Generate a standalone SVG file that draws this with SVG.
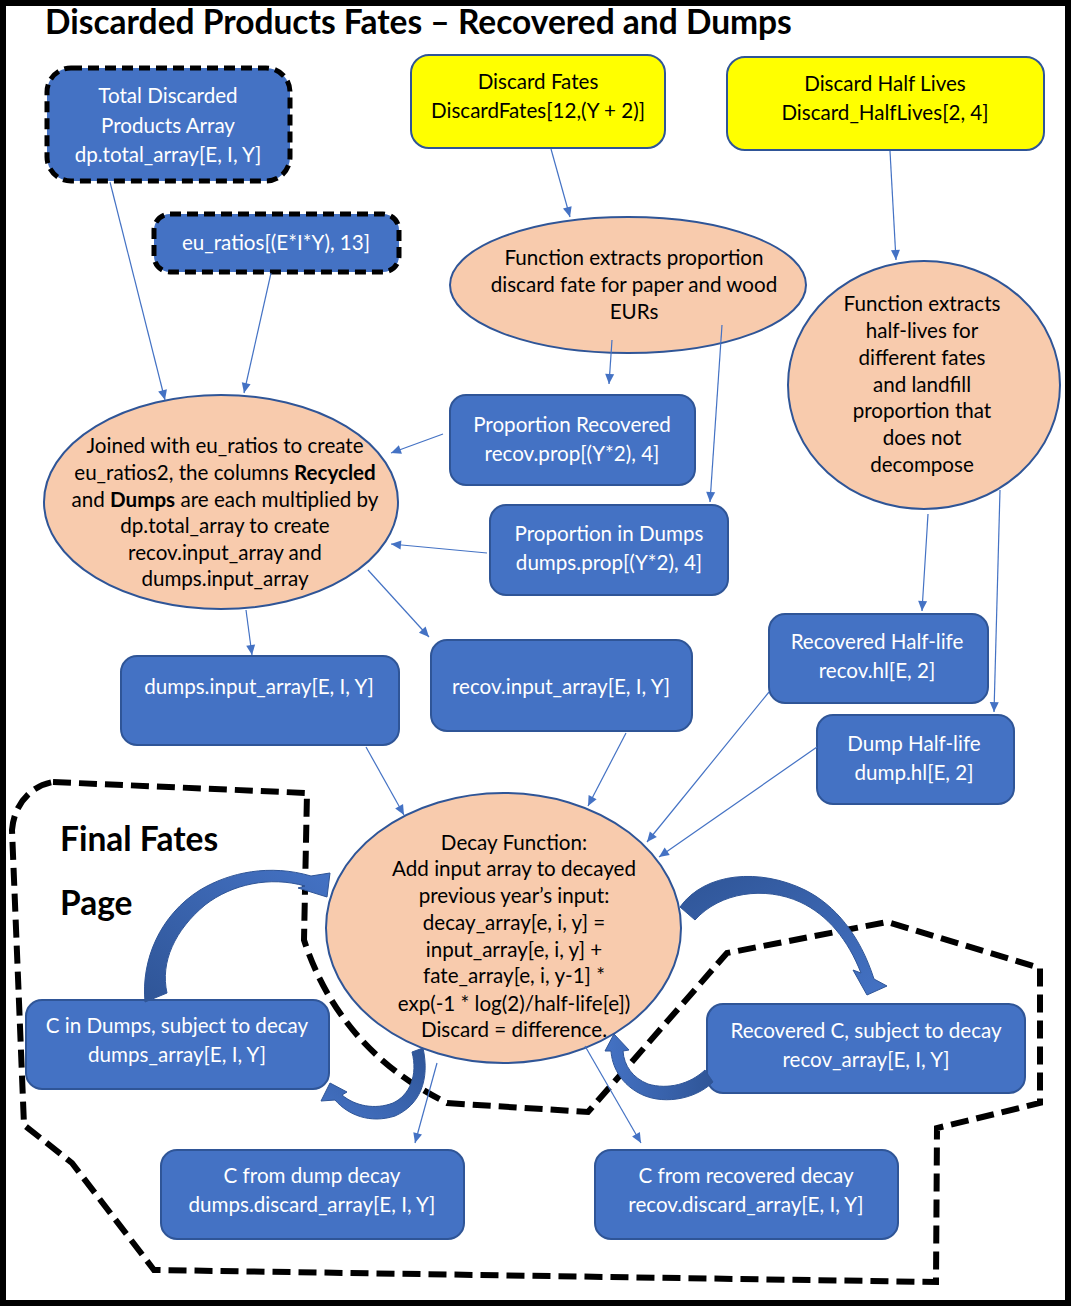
<svg xmlns="http://www.w3.org/2000/svg" width="1071" height="1306" viewBox="0 0 1071 1306">
<defs>
<style>
.t{font-family:Lato,"Liberation Sans",sans-serif;font-size:20.6px;text-anchor:middle}
.w{fill:#ffffff}
.k{fill:#000000}
.box{fill:#4472C4;stroke:#2F5597;stroke-width:2}
.dbox{fill:#4472C4;stroke:#000000;stroke-width:5;stroke-dasharray:11 6}
.ybox{fill:#FFFF00;stroke:#2F5597;stroke-width:2}
.ell{fill:#F8CBAD;stroke:#2F5597;stroke-width:2}
.con line{stroke:#4472C4;stroke-width:1.2;fill:none;marker-end:url(#ah)}
.big{font-family:Lato,"Liberation Sans",sans-serif;font-weight:bold;fill:#000}
</style>
<marker id="ah" viewBox="0 0 10 10" refX="10" refY="5" markerWidth="11" markerHeight="10" markerUnits="userSpaceOnUse" orient="auto">
<path d="M0,0.5 L10,5 L0,9.5 Z" fill="#4472C4"/>
</marker>
<linearGradient id="gA" x1="0" y1="1" x2="1" y2="0"><stop offset="0" stop-color="#2F5597"/><stop offset="1" stop-color="#4472C4"/></linearGradient>
<linearGradient id="gB" x1="1" y1="0" x2="0" y2="1"><stop offset="0" stop-color="#2F5597"/><stop offset="1" stop-color="#4472C4"/></linearGradient>
<linearGradient id="gC" x1="1" y1="0.5" x2="0" y2="0.5"><stop offset="0" stop-color="#2F5597"/><stop offset="1" stop-color="#4472C4"/></linearGradient>
<linearGradient id="gD" x1="0" y1="0" x2="1" y2="1"><stop offset="0" stop-color="#2F5597"/><stop offset="1" stop-color="#4472C4"/></linearGradient>
</defs>
<rect x="0" y="0" width="1071" height="1306" fill="#ffffff"/>
<rect x="3" y="3" width="1065" height="1300" fill="none" stroke="#000" stroke-width="6"/>

<text class="big" x="45" y="34" font-size="33.5">Discarded Products Fates – Recovered and Dumps</text>

<path id="final-fates-boundary" d="M53,782 L307,793 L304,940 Q340,1050 447,1103 L588,1112 L727,953 L887,922 L1040,968 L1040,1103 L937,1128 L936,1282 L154,1270 L72,1163 L24,1125 L12,830 C14,805 30,786 53,782 Z" fill="none" stroke="#000" stroke-width="6" stroke-dasharray="18 8"/>
<text class="big" x="60" y="851" font-size="33.5">Final Fates</text>
<text class="big" x="60" y="915" font-size="33.5">Page</text>

<g id="n-total">
<rect class="dbox" x="47" y="68" width="243" height="113" rx="24"/>
<text class="t w" x="168" y="103">Total Discarded</text>
<text class="t w" x="168" y="133">Products Array</text>
<text class="t w" x="168" y="162">dp.total_array[E, I, Y]</text>
</g>
<g id="n-euratios">
<rect class="dbox" x="154" y="214" width="245" height="58" rx="16"/>
<text class="t w" x="276" y="250">eu_ratios[(E*I*Y), 13]</text>
</g>
<g id="n-discardfates">
<rect class="ybox" x="411" y="55" width="254" height="93" rx="18"/>
<text class="t k" x="538" y="89">Discard Fates</text>
<text class="t k" x="538" y="118">DiscardFates[12,(Y + 2)]</text>
</g>
<g id="n-halflives">
<rect class="ybox" x="727" y="57" width="317" height="93" rx="18"/>
<text class="t k" x="885" y="91">Discard Half Lives</text>
<text class="t k" x="885" y="120">Discard_HalfLives[2, 4]</text>
</g>
<g id="n-extract-prop">
<ellipse class="ell" cx="628" cy="285" rx="178" ry="68"/>
<text class="t k" x="634" y="265">Function extracts proportion</text>
<text class="t k" x="634" y="292">discard fate for paper and wood</text>
<text class="t k" x="634" y="319">EURs</text>
</g>
<g id="n-extract-hl">
<ellipse class="ell" cx="924" cy="385" rx="136" ry="124"/>
<text class="t k" x="922" y="311">Function extracts</text>
<text class="t k" x="922" y="338">half-lives for</text>
<text class="t k" x="922" y="365">different fates</text>
<text class="t k" x="922" y="392">and landfill</text>
<text class="t k" x="922" y="418">proportion that</text>
<text class="t k" x="922" y="445">does not</text>
<text class="t k" x="922" y="472">decompose</text>
</g>
<g id="n-joined">
<ellipse class="ell" cx="221" cy="502" rx="177" ry="107"/>
<text class="t k" x="225" y="453">Joined with eu_ratios to create</text>
<text class="t k" x="225" y="480">eu_ratios2, the columns <tspan font-weight="bold">Recycled</tspan></text>
<text class="t k" x="225" y="507">and <tspan font-weight="bold">Dumps</tspan> are each multiplied by</text>
<text class="t k" x="225" y="533">dp.total_array to create</text>
<text class="t k" x="225" y="560">recov.input_array and</text>
<text class="t k" x="225" y="586">dumps.input_array</text>
</g>
<g id="n-proprecov">
<rect class="box" x="450" y="395" width="245" height="90" rx="16"/>
<text class="t w" x="572" y="432">Proportion Recovered</text>
<text class="t w" x="572" y="461">recov.prop[(Y*2), 4]</text>
</g>
<g id="n-propdumps">
<rect class="box" x="490" y="505" width="238" height="90" rx="16"/>
<text class="t w" x="609" y="541">Proportion in Dumps</text>
<text class="t w" x="609" y="570">dumps.prop[(Y*2), 4]</text>
</g>
<g id="n-dumpsinput">
<rect class="box" x="121" y="656" width="278" height="89" rx="16"/>
<text class="t w" x="259" y="694">dumps.input_array[E, I, Y]</text>
</g>
<g id="n-recovinput">
<rect class="box" x="431" y="640" width="261" height="91" rx="16"/>
<text class="t w" x="561" y="694">recov.input_array[E, I, Y]</text>
</g>
<g id="n-recovhl">
<rect class="box" x="769" y="614" width="219" height="89" rx="16"/>
<text class="t w" x="877" y="649">Recovered Half-life</text>
<text class="t w" x="877" y="678">recov.hl[E, 2]</text>
</g>
<g id="n-dumphl">
<rect class="box" x="817" y="715" width="197" height="89" rx="16"/>
<text class="t w" x="914" y="751">Dump Half-life</text>
<text class="t w" x="914" y="780">dump.hl[E, 2]</text>
</g>
<g id="n-decay">
<ellipse class="ell" cx="503.5" cy="928" rx="177.5" ry="135"/>
<text class="t k" x="514" y="850">Decay Function:</text>
<text class="t k" x="514" y="876">Add input array to decayed</text>
<text class="t k" x="514" y="903">previous year’s input:</text>
<text class="t k" x="514" y="930">decay_array[e, i, y] =</text>
<text class="t k" x="514" y="957">input_array[e, i, y] +</text>
<text class="t k" x="514" y="983">fate_array[e, i, y-1] *</text>
<text class="t k" x="514" y="1011">exp(-1 * log(2)/half-life[e])</text>
<text class="t k" x="514" y="1037">Discard = difference.</text>
</g>
<g id="n-cdumps">
<rect class="box" x="26" y="1000" width="303" height="89" rx="16"/>
<text class="t w" x="177" y="1033">C in Dumps, subject to decay</text>
<text class="t w" x="177" y="1062">dumps_array[E, I, Y]</text>
</g>
<g id="n-crecov">
<rect class="box" x="707" y="1004" width="318" height="89" rx="16"/>
<text class="t w" x="866" y="1038">Recovered C, subject to decay</text>
<text class="t w" x="866" y="1067">recov_array[E, I, Y]</text>
</g>
<g id="n-cdumpdecay">
<rect class="box" x="161" y="1150" width="303" height="89" rx="16"/>
<text class="t w" x="312" y="1183">C from dump decay</text>
<text class="t w" x="312" y="1212">dumps.discard_array[E, I, Y]</text>
</g>
<g id="n-crecovdecay">
<rect class="box" x="595" y="1150" width="303" height="89" rx="16"/>
<text class="t w" x="746" y="1183">C from recovered decay</text>
<text class="t w" x="746" y="1212">recov.discard_array[E, I, Y]</text>
</g>

<g id="connectors" class="con">
<line x1="110" y1="182" x2="165" y2="400"/>
<line x1="271" y1="273" x2="244" y2="393"/>
<line x1="551" y1="149" x2="570" y2="217"/>
<line x1="890" y1="151" x2="896" y2="260"/>
<line x1="612" y1="340" x2="609" y2="384"/>
<line x1="722" y1="325" x2="710" y2="502"/>
<line x1="443" y1="434" x2="391" y2="453"/>
<line x1="487" y1="553" x2="391" y2="544"/>
<line x1="246" y1="610" x2="252" y2="655"/>
<line x1="368" y1="570" x2="429" y2="637"/>
<line x1="928" y1="514" x2="922" y2="611"/>
<line x1="1000" y1="490" x2="994" y2="712"/>
<line x1="366" y1="747" x2="404" y2="815"/>
<line x1="626" y1="733" x2="588" y2="806"/>
<line x1="769" y1="692" x2="647" y2="842"/>
<line x1="817" y1="747" x2="659" y2="857"/>
<line x1="437" y1="1063" x2="415" y2="1143"/>
<line x1="585" y1="1046" x2="641" y2="1143"/>
<path d="M145,1002 C141,960 160,915 200,890 C230,872 270,864 311,876 L330,873 L327,897 L298,888 L305,886 C270,876 232,884 205,905 C175,930 160,962 167,993 Z" fill="url(#gA)" stroke="#2F5597" stroke-width="1"/>
<path d="M423,1048 C430,1080 420,1105 395,1116 C370,1124 348,1115 335,1100 L321,1101 L330,1083 L347,1092 L342,1095 C355,1106 375,1110 393,1103 C410,1095 418,1075 412,1052 Z" fill="url(#gB)" stroke="#2F5597" stroke-width="1"/>
<path d="M713,1082 C695,1100 660,1106 637,1092 C620,1082 612,1066 611,1051 L605,1051 L614,1034 L629,1050 L623,1051 C624,1066 633,1078 648,1084 C668,1090 690,1084 705,1070 Z" fill="url(#gC)" stroke="#2F5597" stroke-width="1"/>
<path d="M680,907 C705,872 760,868 805,890 C835,905 860,935 874,979 L887,986 L867,995 L853,970 L861,973 C848,940 828,915 800,902 C765,886 720,892 695,920 Z" fill="url(#gD)" stroke="#2F5597" stroke-width="1"/>
</g>
</svg>
